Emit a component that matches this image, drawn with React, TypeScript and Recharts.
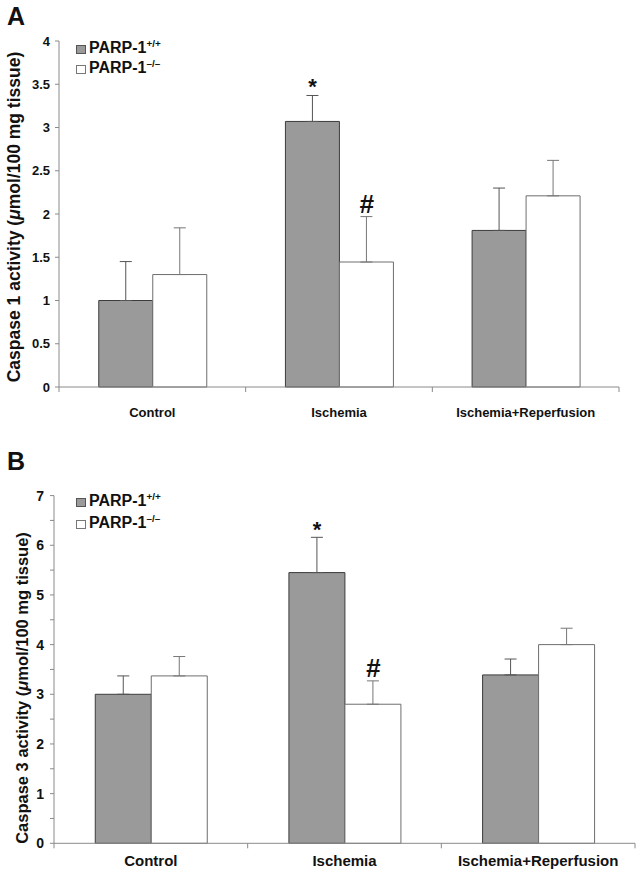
import React from 'react';
import { BarChart, Bar, XAxis, YAxis, ErrorBar, LabelList, Legend, Label } from 'recharts';

const categories = ['Control', 'Ischemia', 'Ischemia+Reperfusion'];

// Panel A: Caspase 1 activity
const casp1Wt = [1.0, 3.07, 1.81];
const casp1WtErr = [0.45, 0.3, 0.49];
const casp1Ko = [1.3, 1.445, 2.21];
const casp1KoErr = [0.54, 0.525, 0.41];
const casp1WtMarks = ['', '*', ''];
const casp1KoMarks = ['', '#', ''];
const casp1Ticks = [0, 0.5, 1, 1.5, 2, 2.5, 3, 3.5, 4];

// Panel B: Caspase 3 activity
const casp3Wt = [3.0, 5.45, 3.39];
const casp3WtErr = [0.37, 0.71, 0.32];
const casp3Ko = [3.37, 2.8, 4.0];
const casp3KoErr = [0.39, 0.47, 0.33];
const casp3WtMarks = ['', '*', ''];
const casp3KoMarks = ['', '#', ''];
const casp3Ticks = [0, 0.5, 1, 1.5, 2, 2.5, 3, 3.5, 4, 4.5, 5, 5.5, 6, 6.5, 7];

const FONT = '"Liberation Sans", Arial, Helvetica, sans-serif';
const AXIS = '#8a8a8a';
const GRAY = '#9a9a9a';

const buildData = (wt: number[], wtErr: number[], ko: number[], koErr: number[], wtM: string[], koM: string[]) =>
  categories.map((c, i) => ({
    cat: c,
    wt: wt[i],
    wtErr: [0, wtErr[i]],
    ko: ko[i],
    koErr: [0, koErr[i]],
    wtMark: wtM[i],
    koMark: koM[i],
  }));

const dataA = buildData(casp1Wt, casp1WtErr, casp1Ko, casp1KoErr, casp1WtMarks, casp1KoMarks);
const dataB = buildData(casp3Wt, casp3WtErr, casp3Ko, casp3KoErr, casp3WtMarks, casp3KoMarks);

const makeMark = (values: number[], errs: number[], gap: number, size: number, italic: boolean) => (props: any) => {
  const vb = props.viewBox || props;
  const { x, y, width, height } = vb;
  const idx = props.index;
  const m = props.value;
  if (!m || idx == null) return null;
  const perUnit = height / values[idx];
  const topY = y - errs[idx] * perUnit;
  return (
    <text
      x={x + width / 2}
      y={topY - gap}
      textAnchor="middle"
      fontFamily={FONT}
      fontWeight="bold"
      fontStyle={italic ? 'italic' : 'normal'}
      fontSize={size}
      fill="#111"
    >
      {m}
    </text>
  );
};

const XTick = (props: any) => {
  const { x, y, payload, fontSize, labelDy } = props;
  const half = payload.offset || 0;
  return (
    <g>
      {payload.index === 0 && <line x1={x - half} x2={x - half} y1={y} y2={y + 5} stroke={AXIS} />}
      <line x1={x + half} x2={x + half} y1={y} y2={y + 5} stroke={AXIS} />
      <text x={x} y={y + labelDy} textAnchor="middle" fontFamily={FONT} fontWeight="bold" fontSize={fontSize} fill="#111">
        {payload.value}
      </text>
    </g>
  );
};

const LegendBox = ({ rowH, fontSize }: { rowH: number; fontSize: number }) => {
  const rows = [
    { fill: GRAY, stroke: '#555', sup: '+/+' },
    { fill: '#fff', stroke: '#777', sup: '\u2013/\u2013' },
  ];
  return (
    <div style={{ fontFamily: FONT, fontWeight: 'bold', fontSize, color: '#111', lineHeight: `${rowH}px` }}>
      {rows.map((r, i) => (
        <div key={i} style={{ height: rowH, display: 'flex', alignItems: 'center' }}>
          <span
            style={{
              display: 'inline-block',
              width: 8,
              height: 7,
              background: r.fill,
              border: `1px solid ${r.stroke}`,
              marginRight: 3,
            }}
          />
          <span>
            PARP-1
            <span style={{ fontSize: fontSize * 0.62, position: 'relative', top: -fontSize * 0.38 }}>{r.sup}</span>
          </span>
        </div>
      ))}
    </div>
  );
};

const YLabel = ({ labelX, centerY, num, fontSize }: any) => (props: any) => (
  <text
    x={labelX}
    y={centerY}
    transform={`rotate(-90, ${labelX}, ${centerY})`}
    textAnchor="middle"
    fontFamily={FONT}
    fontWeight="bold"
    fontSize={fontSize}
    fill="#111"
  >
    {`Caspase ${num} activity (`}
    <tspan fontStyle="italic">{'\u03bc'}</tspan>
    {'mol/100 mg tissue)'}
  </text>
);

type PanelProps = {
  data: any[];
  wt: number[];
  wtErr: number[];
  ko: number[];
  koErr: number[];
  ticks: number[];
  domainMax: number;
  showAllTickLabels: boolean;
  width: number;
  height: number;
  margin: { top: number; right: number; bottom: number; left: number };
  yAxisWidth: number;
  tickFont: number;
  xFont: number;
  xLabelDy: number;
  num: string;
  labelX: number;
  labelCenterY: number;
  labelFont: number;
  legendTop: number;
  legendRowH: number;
  starGap: number;
  hashGap: number;
  tickMargin: number;
};

const Panel = (p: PanelProps) => (
  <BarChart
    width={p.width}
    height={p.height}
    data={p.data}
    margin={p.margin}
    barCategoryGap="21.3%"
    barGap={0}
  >
    <XAxis
      dataKey="cat"
      axisLine={{ stroke: AXIS }}
      tickLine={false}
      tickSize={0}
      tickMargin={0}
      interval={0}
      height={30}
      tick={<XTick fontSize={p.xFont} labelDy={p.xLabelDy} />}
    />
    <YAxis
      width={p.yAxisWidth}
      domain={[0, p.domainMax]}
      ticks={p.ticks}
      interval={0}
      axisLine={{ stroke: AXIS }}
      tickLine={{ stroke: AXIS }}
      tickSize={4}
      tickMargin={p.tickMargin}
      tickFormatter={(v: number) => (p.showAllTickLabels || Number.isInteger(v) ? String(v) : '')}
      tick={{ fontFamily: FONT, fontWeight: 'bold', fontSize: p.tickFont, fill: '#111' }}
    >
      <Label content={YLabel({ labelX: p.labelX, centerY: p.labelCenterY, num: p.num, fontSize: p.labelFont })} />
    </YAxis>
    <Legend
      verticalAlign="middle"
      align="center"
      layout="vertical"
      content={() => <LegendBox rowH={p.legendRowH} fontSize={16} />}
      wrapperStyle={{ top: p.legendTop, left: 76, width: 200 }}
    />
    <Bar dataKey="wt" fill={GRAY} stroke="#3c3c3c" strokeWidth={1} isAnimationActive={false}>
      <ErrorBar dataKey="wtErr" direction="y" width={6} stroke="#555" strokeWidth={1} />
      <LabelList dataKey="wtMark" content={makeMark(p.wt, p.wtErr, p.starGap, 22, false)} />
    </Bar>
    <Bar dataKey="ko" fill="#ffffff" stroke="#6e6e6e" strokeWidth={1} isAnimationActive={false}>
      <ErrorBar dataKey="koErr" direction="y" width={6} stroke="#777" strokeWidth={1} />
      <LabelList dataKey="koMark" content={makeMark(p.ko, p.koErr, p.hashGap, 26, true)} />
    </Bar>
  </BarChart>
);

export default function App() {
  return (
    <div style={{ position: 'absolute', left: 0, top: 0, width: 642, height: 875, background: '#fff', overflow: 'hidden' }}>
      <div style={{ position: 'absolute', left: 7, top: 2, fontFamily: FONT, fontWeight: 'bold', fontSize: 25, color: '#111' }}>A</div>
      <div style={{ position: 'absolute', left: 7, top: 447, fontFamily: FONT, fontWeight: 'bold', fontSize: 25, color: '#111' }}>B</div>
      <div style={{ position: 'absolute', left: 0, top: 0 }}>
        <Panel
          data={dataA}
          wt={casp1Wt}
          wtErr={casp1WtErr}
          ko={casp1Ko}
          koErr={casp1KoErr}
          ticks={casp1Ticks}
          domainMax={4}
          showAllTickLabels={true}
          width={642}
          height={430}
          margin={{ top: 41, right: 23, bottom: 13, left: 0 }}
          yAxisWidth={59}
          tickFont={13}
          xFont={13}
          xLabelDy={30}
          num="1"
          labelX={20}
          labelCenterY={217}
          labelFont={17.5}
          legendTop={39}
          legendRowH={20}
          starGap={1.5}
          hashGap={3.5}
          tickMargin={5}
        />
      </div>
      <div style={{ position: 'absolute', left: 0, top: 450 }}>
        <Panel
          data={dataB}
          wt={casp3Wt}
          wtErr={casp3WtErr}
          ko={casp3Ko}
          koErr={casp3KoErr}
          ticks={casp3Ticks}
          domainMax={7}
          showAllTickLabels={false}
          width={642}
          height={425}
          margin={{ top: 45.6, right: 7, bottom: 1.7, left: 0 }}
          yAxisWidth={54}
          tickFont={14}
          xFont={15}
          xLabelDy={23}
          num="3"
          labelX={28}
          labelCenterY={238}
          labelFont={16.5}
          legendTop={41}
          legendRowH={22}
          starGap={0.5}
          hashGap={4}
          tickMargin={6}
        />
      </div>
    </div>
  );
}
